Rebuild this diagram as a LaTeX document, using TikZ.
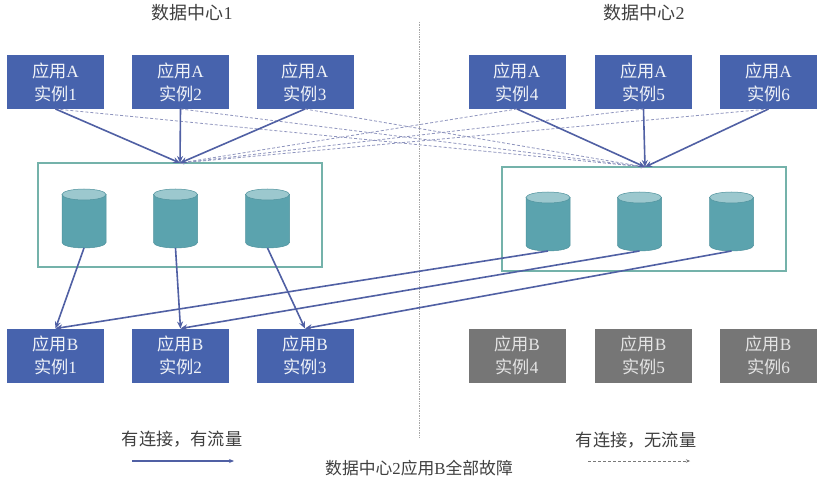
\documentclass[tikz,border=0pt]{standalone}
\usepackage{fontspec}
\setmainfont{Liberation Serif}
\newfontfamily\cjkfam{Noto Sans CJK SC}
\newcommand{\zh}[1]{{\cjkfam #1}}
\usetikzlibrary{arrows.meta,calc}
\definecolor{boxblue}{HTML}{4763AD}
\definecolor{boxgray}{HTML}{767676}
\definecolor{teal1}{HTML}{5BA3AE}
\definecolor{teal2}{HTML}{9CC8CE}
\definecolor{teal3}{HTML}{4F929D}
\definecolor{groupc}{HTML}{74B2AA}
\definecolor{flow}{HTML}{5060A4}
\definecolor{idle}{HTML}{8F95BE}
\definecolor{txt}{HTML}{404040}
\tikzset{
  appbox/.style={rectangle,fill=boxblue,minimum width=97pt,minimum height=54pt,inner sep=0pt,outer sep=0pt,
    text=white!92!boxblue,font=\fontsize{17.2}{23}\selectfont,align=center},
  downbox/.style={appbox,fill=boxgray,text=white!80!boxgray},
  groupbox/.style={rectangle,draw=groupc,line width=1.4pt,minimum width=284pt,minimum height=104pt,inner sep=0pt,outer sep=0pt},
  dbcyl/.style={rectangle,minimum width=44pt,minimum height=59pt,inner sep=0pt,outer sep=0pt},
  dbbody/.style={draw=teal3,line width=.5pt,fill=teal1},
  dbend/.style={draw=teal3,line width=.5pt,fill=teal2},
  flowline/.style={draw=flow,line width=1.6pt,-{Stealth[length=7pt,width=6pt]}},
  idleline/.style={draw=idle,line width=.8pt,densely dashed,-{Stealth[length=4pt,width=3.5pt]}},
  caption/.style={text=txt,inner sep=0pt,font=\fontsize{16.8}{18}\selectfont},
}
\newcommand{\drawcyl}[1]{%
  \path[dbbody] ($(#1.north west)+(0,5.5)$) -- ($(#1.south west)+(0,-5.5)$)
     arc[start angle=180,end angle=360,x radius=22pt,y radius=5.5pt]
     -- ($(#1.north east)+(0,5.5)$) -- cycle;
  \path[dbend] ($(#1.north)+(0,5.5)$) ellipse[x radius=22pt,y radius=5.5pt];
}
\begin{document}
\begin{tikzpicture}[x=1pt,y=-1pt]
\useasboundingbox[fill=white] (0,0) rectangle (832,494);
\node[caption,font=\fontsize{18}{20}\selectfont] (t1) at (192,13) {\zh{数据中心}1};
\node[caption,font=\fontsize{18}{20}\selectfont] (t2) at (644,13) {\zh{数据中心}2};
\coordinate (divtop) at (419,22);
\coordinate (divbot) at (419,437);
\draw[draw=gray!70,line width=.7pt,densely dotted] (divtop) -- (divbot);
% groups
\node[groupbox] (g1) at (180,215) {};
\node[groupbox] (g2) at (644,219) {};
\coordinate (hub1) at (180,163);
\coordinate (hub2) at (645,167);
% A boxes
\foreach \n/\x in {1/55.5,2/180.5,3/305,4/517,5/643.5,6/768.5}
  \node[appbox] (a\n) at (\x,82) {\zh{应用}A\\\zh{实例}\n};
% B boxes
\foreach \n/\x in {1/55.5,2/180.5,3/305}
  \node[appbox] (b\n) at (\x,355.5) {\zh{应用}B\\\zh{实例}\n};
\foreach \n/\x in {4/517,5/643.5,6/768.5}
  \node[downbox] (b\n) at (\x,355.5) {\zh{应用}B\\\zh{实例}\n};
% cylinders
\foreach \n/\x in {1/84,2/175.5,3/267.5}
  {\node[dbcyl] (c\n) at (\x,218.5) {}; \drawcyl{c\n}}
\foreach \n/\x in {4/548,5/639.5,6/731.5}
  {\node[dbcyl] (c\n) at (\x,221.5) {}; \drawcyl{c\n}}
% idle connections
\foreach \n in {1,2,3} \draw[idleline] (a\n.south) -- (hub2);
\foreach \n in {4,5,6} \draw[idleline] (a\n.south) -- (hub1);
% active connections
\foreach \n in {1,2,3} \draw[flowline] (a\n.south) -- (hub1);
\foreach \n in {4,5,6} \draw[flowline] (a\n.south) -- (hub2);
\draw[flowline] (c1.south) -- (b1.north);
\draw[flowline] (c2.south) -- (b2.north);
\draw[flowline] (c3.south) -- (b3.north);
\draw[flowline] (c4.south) -- (b1.north);
\draw[flowline] (c5.south) -- (b2.north);
\draw[flowline] (c6.south) -- (b3.north);
% legend
\node[caption,font=\fontsize{17.2}{18}\selectfont] (l1) at (182,439) {\zh{有连接，有流量}};
\node[caption,font=\fontsize{17.2}{18}\selectfont] (l2) at (636,440) {\zh{有连接，无流量}};
\coordinate (s1) at (132,461); \coordinate (e1) at (234,461);
\coordinate (s2) at (588,461); \coordinate (e2) at (690,461);
\draw[flowline,-{Stealth[length=5pt,width=4pt]}] (s1) -- (e1);
\draw[idleline,draw=txt!70,line width=.6pt] (s2) -- (e2);
\node[caption] (foot) at (419,468) {\zh{数据中心}2\zh{应用}B\zh{全部故障}};
\end{tikzpicture}
\end{document}
